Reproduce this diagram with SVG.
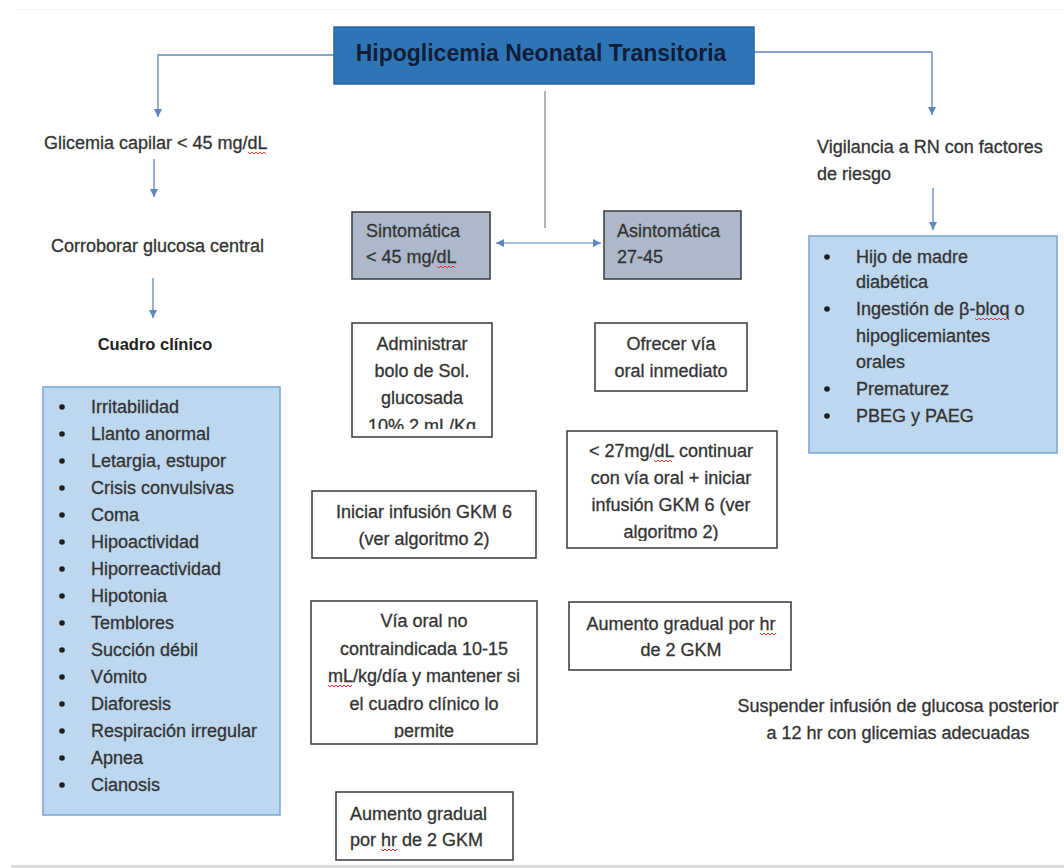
<svg xmlns="http://www.w3.org/2000/svg" width="1064" height="868" viewBox="0 0 1064 868">
<style>
  text { font-family: "Liberation Sans", Arial, sans-serif; font-size: 18px; fill: #333333; stroke: #333333; stroke-width: 0.3; }
  .title { font-size: 23px; font-weight: bold; fill: #0f1d38; stroke: none; }
  .bold { font-size: 16.5px; font-weight: bold; fill: #222; stroke: none; }
  .mid { text-anchor: middle; }
  .box { fill: #ffffff; stroke: #444444; stroke-width: 1.6; }
  .gbox { fill: #adb9ca; stroke: #444444; stroke-width: 1.6; }
  .lbox { fill: #bdd7ee; stroke: #7fa9d6; stroke-width: 1.6; }
  .tbox { fill: #2e75b6; stroke: #2a65a0; stroke-width: 1.5; }
  .conn { fill: none; stroke: #5b87c1; stroke-width: 1.3; }
  .gline { fill: none; stroke: #8a8a8a; stroke-width: 1.3; }
  .dbl { fill: none; stroke: #8fa9cc; stroke-width: 1.6; }
  .sq { fill: none; stroke: #e0302f; stroke-width: 1; }
  .bul { fill: #1e1e1e; }
</style>
<defs>
  <marker id="arr" viewBox="0 0 10 10" refX="10" refY="5" markerWidth="8" markerHeight="9" markerUnits="userSpaceOnUse" orient="auto-start-reverse">
    <path d="M0,0 L10,5 L0,10 z" fill="#5b87c1"/>
  </marker>
  <clipPath id="clipAdm"><rect x="352" y="323" width="140" height="106"/></clipPath>
  <clipPath id="clipLt27"><rect x="567" y="431" width="210" height="110"/></clipPath>
  <clipPath id="clipVia"><rect x="311" y="601" width="226" height="137"/></clipPath>
</defs>

<rect x="0" y="0" width="1064" height="868" fill="#ffffff"/>
<line x1="17" y1="9.5" x2="1064" y2="9.5" stroke="#f1f1f1" stroke-width="1"/>
<rect x="11" y="865" width="1053" height="3" fill="#dcdcdc"/>

<g id="connectors">
  <path class="conn" d="M334,55 H158 V117" marker-end="url(#arr)"/>
  <path class="conn" d="M154,159 V197" marker-end="url(#arr)"/>
  <path class="conn" d="M153,278 V318" marker-end="url(#arr)"/>
  <path class="conn" d="M754,52 H932 V115" marker-end="url(#arr)"/>
  <path class="conn" d="M933,188 V230" marker-end="url(#arr)"/>
  <path class="gline" d="M545,91 V228"/>
  <path class="dbl" d="M496,243 H601" marker-start="url(#arr)" marker-end="url(#arr)"/>
</g>

<g id="title">
  <rect class="tbox" x="334" y="27" width="420" height="57"/>
  <text class="title mid" x="541" y="61">Hipoglicemia Neonatal Transitoria</text>
</g>

<g id="glicemia">
  <text x="44" y="149">Glicemia capilar &lt; 45 mg/dL</text>
  <path class="sq" d="M248,152 l2,2 l2,-2 l2,2 l2,-2 l2,2 l2,-2 l2,2 l2,-2 l2,2"/>
</g>

<g id="corroborar">
  <text x="51" y="252">Corroborar glucosa central</text>
</g>

<g id="cuadro">
  <text class="bold mid" x="155" y="350">Cuadro clínico</text>
</g>

<g id="sintomas">
  <rect class="lbox" x="43" y="387" width="237" height="428"/>
  <circle class="bul" cx="62" cy="407" r="2.8"/><text x="91" y="413">Irritabilidad</text>
  <circle class="bul" cx="62" cy="434" r="2.8"/><text x="91" y="440">Llanto anormal</text>
  <circle class="bul" cx="62" cy="461" r="2.8"/><text x="91" y="467">Letargia, estupor</text>
  <circle class="bul" cx="62" cy="488" r="2.8"/><text x="91" y="494">Crisis convulsivas</text>
  <circle class="bul" cx="62" cy="515" r="2.8"/><text x="91" y="521">Coma</text>
  <circle class="bul" cx="62" cy="542" r="2.8"/><text x="91" y="548">Hipoactividad</text>
  <circle class="bul" cx="62" cy="569" r="2.8"/><text x="91" y="575">Hiporreactividad</text>
  <circle class="bul" cx="62" cy="596" r="2.8"/><text x="91" y="602">Hipotonia</text>
  <circle class="bul" cx="62" cy="623" r="2.8"/><text x="91" y="629">Temblores</text>
  <circle class="bul" cx="62" cy="650" r="2.8"/><text x="91" y="656">Succión débil</text>
  <circle class="bul" cx="62" cy="677" r="2.8"/><text x="91" y="683">Vómito</text>
  <circle class="bul" cx="62" cy="704" r="2.8"/><text x="91" y="710">Diaforesis</text>
  <circle class="bul" cx="62" cy="731" r="2.8"/><text x="91" y="737">Respiración irregular</text>
  <circle class="bul" cx="62" cy="758" r="2.8"/><text x="91" y="764">Apnea</text>
  <circle class="bul" cx="62" cy="785" r="2.8"/><text x="91" y="791">Cianosis</text>
</g>

<g id="sintomatica">
  <rect class="gbox" x="352" y="212" width="138" height="67"/>
  <text x="366" y="237">Sintomática</text>
  <text x="366" y="263">&lt; 45 mg/dL</text>
  <path class="sq" d="M437,266 l2,2 l2,-2 l2,2 l2,-2 l2,2 l2,-2 l2,2 l2,-2 l2,2"/>
</g>

<g id="asintomatica">
  <rect class="gbox" x="604" y="211" width="137" height="68"/>
  <text x="617" y="237">Asintomática</text>
  <text x="617" y="263">27-45</text>
</g>

<g id="vigilancia">
  <text x="817" y="153">Vigilancia a RN con factores</text>
  <text x="817" y="180">de riesgo</text>
</g>

<g id="factores">
  <rect class="lbox" x="809" y="236" width="248" height="217"/>
  <circle class="bul" cx="827" cy="257" r="2.8"/><text x="856" y="263">Hijo de madre</text>
  <text x="856" y="288">diabética</text>
  <circle class="bul" cx="827" cy="309" r="2.8"/><text x="856" y="315">Ingestión de β-bloq o</text>
  <path class="sq" d="M975,318 l2,2 l2,-2 l2,2 l2,-2 l2,2 l2,-2 l2,2 l2,-2 l2,2 l2,-2 l2,2 l2,-2 l2,2 l2,-2 l2,2 l2,-2 l2,2"/>
  <text x="856" y="342">hipoglicemiantes</text>
  <text x="856" y="368">orales</text>
  <circle class="bul" cx="827" cy="389" r="2.8"/><text x="856" y="395">Prematurez</text>
  <circle class="bul" cx="827" cy="416" r="2.8"/><text x="856" y="422">PBEG y PAEG</text>
</g>

<g id="administrar">
  <rect class="box" x="352" y="323" width="140" height="114"/>
  <g clip-path="url(#clipAdm)">
    <text class="mid" x="422" y="350">Administrar</text>
    <text class="mid" x="422" y="377">bolo de Sol.</text>
    <text class="mid" x="422" y="404">glucosada</text>
    <text class="mid" x="422" y="432">10% 2 mL/Kg</text>
  </g>
</g>

<g id="ofrecer">
  <rect class="box" x="595" y="323" width="152" height="68"/>
  <text class="mid" x="671" y="350">Ofrecer vía</text>
  <text class="mid" x="671" y="377">oral inmediato</text>
</g>

<g id="menor27">
  <rect class="box" x="567" y="431" width="210" height="117"/>
  <g clip-path="url(#clipLt27)">
    <text class="mid" x="671" y="457">&lt; 27mg/dL continuar</text>
    <text class="mid" x="671" y="484">con vía oral + iniciar</text>
    <text class="mid" x="671" y="511">infusión GKM 6 (ver</text>
    <text class="mid" x="671" y="538">algoritmo 2)</text>
  </g>
  <path class="sq" d="M654,460 l2,2 l2,-2 l2,2 l2,-2 l2,2 l2,-2 l2,2 l2,-2 l2,2"/>
</g>

<g id="iniciar">
  <rect class="box" x="312" y="491" width="224" height="67"/>
  <text class="mid" x="424" y="518">Iniciar infusión GKM 6</text>
  <text class="mid" x="424" y="545">(ver algoritmo 2)</text>
</g>

<g id="viaoral">
  <rect class="box" x="311" y="601" width="226" height="143"/>
  <g clip-path="url(#clipVia)">
    <text class="mid" x="424" y="627">Vía oral no</text>
    <text class="mid" x="424" y="655">contraindicada 10-15</text>
    <text class="mid" x="424" y="682">mL/kg/día y mantener si</text>
    <text class="mid" x="424" y="710">el cuadro clínico lo</text>
    <text class="mid" x="424" y="737">permite</text>
  </g>
  <path class="sq" d="M328,685 l2,2 l2,-2 l2,2 l2,-2 l2,2 l2,-2 l2,2 l2,-2 l2,2 l2,-2 l2,2 l2,-2"/>
</g>

<g id="aumento1">
  <rect class="box" x="336" y="792" width="177" height="68"/>
  <text x="350" y="820">Aumento gradual</text>
  <text x="350" y="846">por hr de 2 GKM</text>
  <path class="sq" d="M381,849 l2,2 l2,-2 l2,2 l2,-2 l2,2 l2,-2 l2,2 l2,-2"/>
</g>

<g id="aumento2">
  <rect class="box" x="569" y="602" width="222" height="68"/>
  <text class="mid" x="681" y="630">Aumento gradual por hr</text>
  <text class="mid" x="681" y="656">de 2 GKM</text>
  <path class="sq" d="M760,633 l2,2 l2,-2 l2,2 l2,-2 l2,2 l2,-2 l2,2 l2,-2"/>
</g>

<g id="suspender">
  <text class="mid" x="898" y="712">Suspender infusión de glucosa posterior</text>
  <text class="mid" x="898" y="739">a 12 hr con glicemias adecuadas</text>
</g>
</svg>
